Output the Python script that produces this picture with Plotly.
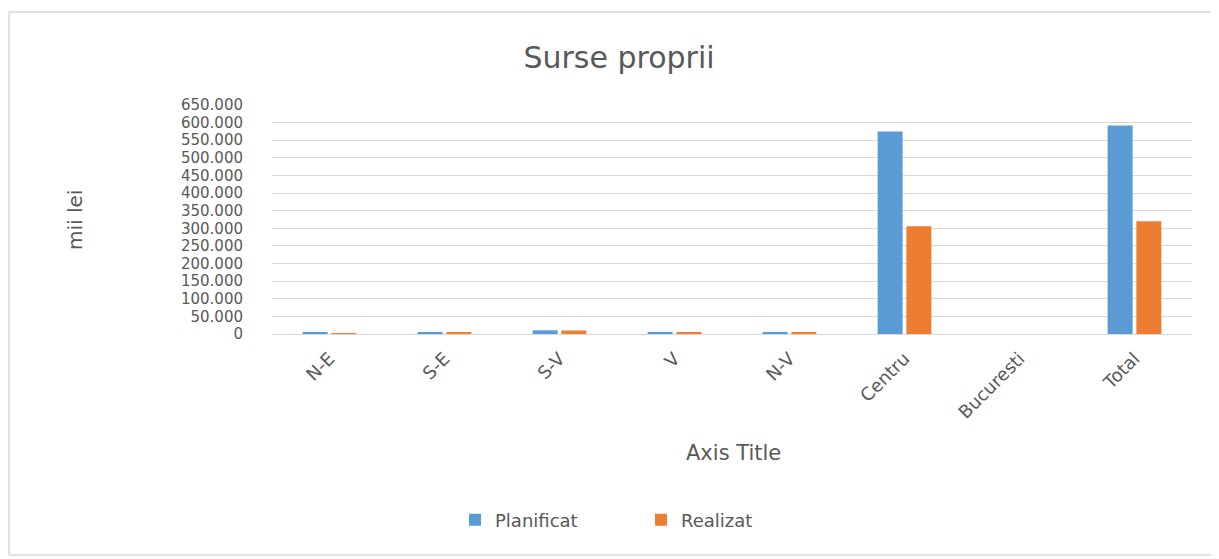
import plotly.graph_objects as go

categories = ["N-E", "S-E", "S-V", "V", "N-V", "Centru", "Bucuresti", "Total"]
planificat = [3000, 3000, 10500, 3000, 3000, 575000, 0, 592000]
realizat = [2800, 3000, 10000, 3000, 3000, 306000, 0, 320000]
y_ticks = list(range(0, 650001, 50000))

GRAY = "#595959"
FONT = "DejaVu Sans"
BORDER = "#d9d9d9"

# page body has an 8px margin: work in reference pixels, shifted by OFF
OFF = 8
W, H = 1219 - 2 * OFF, 559 - OFF
L, T = 272 - OFF, 105 - OFF
R = W - (1192 - OFF)
B = H - (334 - OFF)
pw, ph = W - L - R, H - T - B


def px(xp):
    return (xp - OFF - L) / pw


def py(yp):
    return (H - B - (yp - OFF)) / ph


fig = go.Figure()
fig.add_trace(go.Bar(name="Planificat", x=categories, y=planificat,
                     marker=dict(color="#5b9bd5", line=dict(width=0))))
fig.add_trace(go.Bar(name="Realizat", x=categories, y=realizat,
                     marker=dict(color="#ed7d31", line=dict(width=0))))

bx0, bx1, by0, by1 = px(9), px(1300), py(555), py(12)
border_lines = [
    dict(x0=bx0, x1=bx0, y0=by0, y1=by1),
    dict(x0=bx0, x1=bx1, y0=by1, y1=by1),
    dict(x0=bx0, x1=bx1, y0=by0, y1=by0),
]
shapes = [dict(type="line", xref="paper", yref="paper", layer="below",
               line=dict(color=BORDER, width=1.5), **s) for s in border_lines]

fig.update_layout(
    width=W, height=H,
    margin=dict(l=L, r=R, t=T, b=B),
    paper_bgcolor="white", plot_bgcolor="white",
    separators=",.",
    barmode="group", bargap=0.5, bargroupgap=0.13,
    font=dict(family=FONT, color=GRAY),
    title=dict(text="Surse proprii", x=(619 - OFF) / W, xanchor="center",
               y=1 - (57 - OFF) / H, yanchor="middle", yref="container",
               font=dict(size=30, color=GRAY, family=FONT)),
    showlegend=True,
    legend=dict(orientation="h", x=px(470 - 15), xanchor="left", y=py(520), yanchor="middle",
                font=dict(size=18, color=GRAY), itemwidth=30, traceorder="normal",
                entrywidth=141, entrywidthmode="pixels"),
    xaxis=dict(type="category", tickangle=-45, tickfont=dict(size=18, color=GRAY),
               showgrid=False, showline=True, linecolor=BORDER, ticks="",
               ticklabelstandoff=6),
    yaxis=dict(range=[0, 650000], tickvals=y_ticks, tickformat=",d",
               tickfont=dict(size=15, color=GRAY), gridcolor=BORDER,
               zeroline=False, showline=False, ticks="", ticklabelstandoff=28),
    shapes=shapes,
    annotations=[
        dict(text="mii lei", xref="paper", yref="paper", x=px(75), y=py(220),
             xanchor="center", yanchor="middle",
             textangle=-90, showarrow=False, font=dict(size=20, color=GRAY)),
        dict(text="Axis Title", xref="paper", yref="paper", x=px(733), y=py(453),
             xanchor="center", yanchor="middle",
             showarrow=False, font=dict(size=21, color=GRAY)),
    ],
)

fig.write_html("out.html")
